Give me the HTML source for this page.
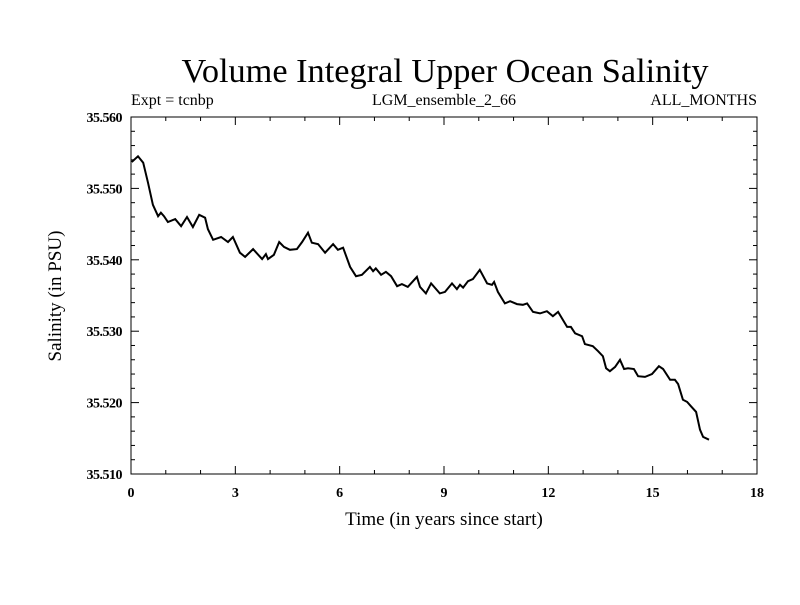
<!DOCTYPE html>
<html><head><meta charset="utf-8"><style>
body{margin:0;background:#fff}
svg text{font-family:"Liberation Serif",serif;fill:#000}
</style></head><body>
<svg id="chart" width="800" height="600">
<rect width="800" height="600" fill="#fff"/>
<text x="445" y="82" font-size="34.3" text-anchor="middle">Volume Integral Upper Ocean Salinity</text>
<text x="131" y="105" font-size="16">Expt = tcnbp</text>
<text x="444" y="105" font-size="16" text-anchor="middle">LGM_ensemble_2_66</text>
<text x="757" y="105" font-size="16" text-anchor="end">ALL_MONTHS</text>
<rect x="131" y="117" width="626" height="357" fill="none" stroke="#000" stroke-width="1"/>
<g id="ticks"></g>
<path id="line" fill="none" stroke="#000" stroke-width="2"/>
<text x="444" y="525" font-size="19" text-anchor="middle">Time (in years since start)</text>
<text transform="translate(61,296) rotate(-90)" font-size="19" text-anchor="middle">Salinity (in PSU)</text>
</svg>
<script>
const xTicks=[0,3,6,9,12,15,18];
const yTicks=[35.510,35.520,35.530,35.540,35.550,35.560];
const yTickLabels=["35.510","35.520","35.530","35.540","35.550","35.560"];
const times=[0.02,0.20,0.35,0.49,0.63,0.78,0.86,0.95,1.06,1.27,1.44,1.61,1.78,1.96,2.13,2.21,2.36,2.59,2.79,2.93,3.13,3.28,3.51,3.77,3.88,3.94,4.11,4.26,4.40,4.57,4.77,4.92,5.09,5.20,5.38,5.58,5.81,5.95,6.10,6.30,6.47,6.64,6.87,6.96,7.04,7.19,7.33,7.48,7.65,7.79,7.96,8.22,8.31,8.48,8.63,8.88,9.03,9.23,9.37,9.46,9.55,9.69,9.83,10.03,10.24,10.38,10.44,10.55,10.75,10.90,11.10,11.27,11.39,11.56,11.76,11.96,12.13,12.28,12.54,12.65,12.77,12.97,13.05,13.28,13.43,13.57,13.66,13.77,13.92,14.06,14.18,14.29,14.46,14.58,14.78,14.98,15.18,15.30,15.50,15.64,15.73,15.87,15.99,16.10,16.25,16.36,16.45,16.62];
const salinity=[35.5537,35.5545,35.5536,35.5508,35.5477,35.5461,35.5466,35.5461,35.5453,35.5457,35.5447,35.5460,35.5446,35.5463,35.5459,35.5443,35.5428,35.5432,35.5425,35.5432,35.5410,35.5404,35.5415,35.5401,35.5408,35.5401,35.5407,35.5425,35.5418,35.5414,35.5415,35.5425,35.5438,35.5424,35.5422,35.5410,35.5422,35.5414,35.5417,35.5390,35.5377,35.5379,35.5390,35.5384,35.5388,35.5379,35.5383,35.5377,35.5363,35.5366,35.5362,35.5376,35.5362,35.5353,35.5367,35.5353,35.5355,35.5367,35.5359,35.5365,35.5361,35.5370,35.5373,35.5386,35.5367,35.5365,35.5369,35.5355,35.5339,35.5342,35.5338,35.5337,35.5339,35.5327,35.5325,35.5328,35.5321,35.5327,35.5306,35.5306,35.5297,35.5293,35.5282,35.5279,35.5272,35.5265,35.5248,35.5244,35.5250,35.5260,35.5247,35.5248,35.5247,35.5237,35.5236,35.5240,35.5251,35.5247,35.5232,35.5232,35.5226,35.5204,35.5201,35.5195,35.5187,35.5162,35.5152,35.5148];
const X0=131,X1=757,Y0=474,Y1=117;
const xs=t=>X0+(t-0)/(18-0)*(X1-X0);
const ys=v=>Y0-(v-35.510)/(35.560-35.510)*(Y0-Y1);
const NS="http://www.w3.org/2000/svg";
const g=document.getElementById('ticks');
function ln(x1,y1,x2,y2){const l=document.createElementNS(NS,'line');l.setAttribute('x1',x1);l.setAttribute('y1',y1);l.setAttribute('x2',x2);l.setAttribute('y2',y2);l.setAttribute('stroke','#000');


g.appendChild(l);}
for(let t=0;t<=18;t++){const x=xs(t);const L=(t%3===0)?8:4;ln(x,Y0,x,Y0-L);ln(x,Y1,x,Y1+L);}
for(let i=0;i<=25;i++){const v=35.510+i*0.002;const y=ys(v);const L=(i%5===0)?8:4;ln(X0,y,X0+L,y);ln(X1,y,X1-L,y);}
xTicks.forEach(t=>{const e=document.createElementNS(NS,'text');e.setAttribute('x',xs(t));e.setAttribute('y',Y0+23);e.setAttribute('font-size','14');e.setAttribute('font-weight','bold');e.setAttribute('text-anchor','middle');e.textContent=t;


g.appendChild(e);});
yTicks.forEach((v,i)=>{const e=document.createElementNS(NS,'text');e.setAttribute('x',X0-9);e.setAttribute('y',ys(v)+5);e.setAttribute('font-size','14');e.setAttribute('font-weight','bold');e.setAttribute('letter-spacing','-0.5');e.setAttribute('text-anchor','end');e.textContent=yTickLabels[i];


g.appendChild(e);});
document.getElementById('line').setAttribute('d',times.map((t,i)=>(i?'L':'M')+xs(t).toFixed(1)+','+ys(salinity[i]).toFixed(1)).join(''));
</script>
</body></html>
